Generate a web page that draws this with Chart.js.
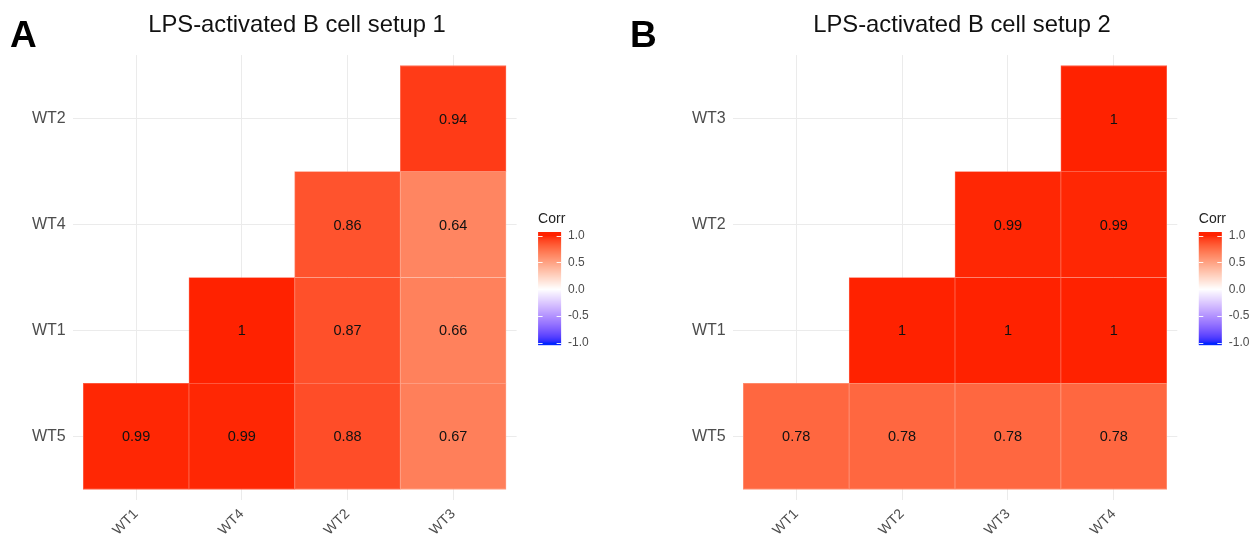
<!DOCTYPE html>
<html><head><meta charset="utf-8">
<script src="https://cdn.jsdelivr.net/npm/chart.js@4.4.0/dist/chart.umd.min.js"></script>
<style>
html,body{margin:0;padding:0;background:#fff;}
#wrap{position:relative;width:1255px;height:539px;overflow:hidden;background:#fff;}
canvas{position:absolute;top:0;}
#cA{left:0;} #cB{left:627px;}
</style></head><body>
<div id="wrap"><canvas id="cA" width="627" height="539"></canvas><canvas id="cB" width="628" height="539"></canvas></div>
<script>
// ---- data ----
const titleA = 'LPS-activated B cell setup 1';
const titleB = 'LPS-activated B cell setup 2';
const letterA = 'A';
const letterB = 'B';
const legendTitle = 'Corr';
const colsA = ['WT1', 'WT4', 'WT2', 'WT3'];
const rowsA = ['WT5', 'WT1', 'WT4', 'WT2']; // bottom -> top
const valsA_WT5 = [0.99, 0.99, 0.88, 0.67];
const valsA_WT1 = [null, 1, 0.87, 0.66];
const valsA_WT4 = [null, null, 0.86, 0.64];
const valsA_WT2 = [null, null, null, 0.94];
const colsB = ['WT1', 'WT2', 'WT3', 'WT4'];
const rowsB = ['WT5', 'WT1', 'WT2', 'WT3']; // bottom -> top
const valsB_WT5 = [0.78, 0.78, 0.78, 0.78];
const valsB_WT1 = [null, 1, 1, 1];
const valsB_WT2 = [null, null, 0.99, 0.99];
const valsB_WT3 = [null, null, null, 1];
const legendTicks = [1.0, 0.5, 0.0, -0.5, -1.0];
const legendTickLabels = ['1.0', '0.5', '0.0', '-0.5', '-1.0'];

// ---- colour scale (Lab interpolation, blue - white - red) ----
function s2l(c){c/=255;return c<=0.04045?c/12.92:Math.pow((c+0.055)/1.055,2.4);}
function l2s(c){c=c<=0.0031308?12.92*c:1.055*Math.pow(Math.max(c,0),1/2.4)-0.055;return Math.round(Math.max(0,Math.min(1,c))*255);}
function rgbToLab(rgb){const R=s2l(rgb[0]),G=s2l(rgb[1]),B=s2l(rgb[2]);
  const X=(0.4124*R+0.3576*G+0.1805*B)/0.95047,Y=0.2126*R+0.7152*G+0.0722*B,Z=(0.0193*R+0.1192*G+0.9505*B)/1.08883;
  const f=t=>t>0.008856?Math.cbrt(t):7.787*t+16/116;
  const fx=f(X),fy=f(Y),fz=f(Z);return [116*fy-16,500*(fx-fy),200*(fy-fz)];}
function labToRgb(lab){const fy=(lab[0]+16)/116,fx=fy+lab[1]/500,fz=fy-lab[2]/200;
  const fi=t=>t*t*t>0.008856?t*t*t:(t-16/116)/7.787;
  const X=fi(fx)*0.95047,Y=fi(fy),Z=fi(fz)*1.08883;
  return [l2s(3.2406*X-1.5372*Y-0.4986*Z),l2s(-0.9689*X+1.8758*Y+0.0415*Z),l2s(0.0557*X-0.2040*Y+1.0570*Z)];}
const LOW=rgbToLab([0,36,255]),MID=rgbToLab([255,255,255]),HIGH=rgbToLab([255,34,0]);
function corrRGB(v){const t=Math.min(1,Math.abs(v));const e=v>=0?HIGH:LOW;return labToRgb(MID.map((m,i)=>m+(e[i]-m)*t));}
function corrColor(v,mix){let c=corrRGB(v);if(mix)c=c.map(x=>Math.round(x+(255-x)*mix));return 'rgb('+c.join(',')+')';}

const FONT = '"Liberation Sans", Arial, Helvetica, sans-serif';

function makePanel(id, cols, rows, rowVals, title, letter, geo) {
  const datasets = rows.map((r, ri) => {
    const pts = [];
    rowVals[ri].forEach((v, ci) => { if (v !== null) pts.push({x: ci + 1, y: [ri + 0.5, ri + 1.5], v: v}); });
    return {
      label: r, data: pts, grouped: false,
      backgroundColor: pts.map(p => corrColor(p.v)),
      borderColor: pts.map(p => corrColor(p.v, 0.3)),
      borderWidth: 0.8, borderSkipped: false,
      barPercentage: 1, categoryPercentage: 1
    };
  });
  const deco = {
    id: 'deco',
    afterDatasetsDraw(chart) {
      const ctx = chart.ctx;
      ctx.save();
      ctx.fillStyle = '#111';
      ctx.font = '14.5px ' + FONT;
      ctx.textAlign = 'center';
      ctx.textBaseline = 'middle';
      chart.data.datasets.forEach((ds, di) => {
        chart.getDatasetMeta(di).data.forEach((el, i) => {
          const c = el.getCenterPoint();
          ctx.fillText(String(ds.data[i].v), c.x, c.y + 1);
        });
      });
      ctx.restore();
    },
    afterDraw(chart) {
      const ctx = chart.ctx;
      const a = chart.chartArea;
      ctx.save();
      // panel letter
      ctx.fillStyle = '#000';
      ctx.font = 'bold 37px ' + FONT;
      ctx.textAlign = 'left';
      ctx.textBaseline = 'alphabetic';
      ctx.fillText(letter, geo.letterX, 47);
      // title
      ctx.font = '23.8px ' + FONT;
      ctx.textAlign = 'center';
      ctx.fillStyle = '#111';
      ctx.fillText(title, geo.titleX, 32);
      // legend
      const bx = a.right + 21.5, bw = 23, top = 232, bot = 345;
      const y1 = 235.5, ym1 = 343;
      const yOf = v => y1 + (1 - v) / 2 * (ym1 - y1);
      for (let y = top; y < bot; y += 1) {
        const v = 1 - (y + 0.5 - y1) / (ym1 - y1) * 2;
        ctx.fillStyle = corrColor(Math.max(-1, Math.min(1, v)));
        ctx.fillRect(bx, y, bw, 1.2);
      }
      ctx.strokeStyle = 'rgba(255,255,255,0.9)';
      ctx.lineWidth = 1;
      legendTicks.forEach(v => {
        const y = Math.round(yOf(v)) + 0.5;
        ctx.beginPath();
        ctx.moveTo(bx, y); ctx.lineTo(bx + 4.5, y);
        ctx.moveTo(bx + bw - 4.5, y); ctx.lineTo(bx + bw, y);
        ctx.stroke();
      });
      ctx.fillStyle = '#222';
      ctx.font = '14px ' + FONT;
      ctx.textAlign = 'left';
      ctx.textBaseline = 'alphabetic';
      ctx.fillText(legendTitle, bx, 223);
      ctx.fillStyle = '#4D4D4D';
      ctx.font = '12px ' + FONT;
      ctx.textBaseline = 'middle';
      legendTicks.forEach((v, i) => ctx.fillText(legendTickLabels[i], bx + bw + 7, yOf(v)));
      ctx.restore();
    }
  };
  return new Chart(document.getElementById(id), {
    type: 'bar',
    data: {datasets},
    plugins: [deco],
    options: {
      responsive: false, animation: false, events: [], devicePixelRatio: 1,
      layout: {padding: {left: 0, right: geo.padRight, top: 55.1, bottom: 0}},
      plugins: {legend: {display: false}, tooltip: {enabled: false}, title: {display: false}},
      scales: {
        x: {
          type: 'linear', min: 0.4, max: 4.6, offset: false,
          afterBuildTicks: s => { s.ticks = cols.map((c, i) => ({value: i + 1})); },
          afterFit: s => { s.height = 539 - 499.9; },
          grid: {color: '#EBEBEB', lineWidth: 1, drawTicks: false, offset: false},
          border: {display: false},
          ticks: {autoSkip: false, maxRotation: 45, minRotation: 45, padding: 6, color: '#4D4D4D',
                  font: {family: FONT, size: 14}, callback: v => cols[Math.round(v) - 1]}
        },
        y: {
          type: 'linear', min: 0.4, max: 4.6, offset: false,
          afterBuildTicks: s => { s.ticks = rows.map((r, i) => ({value: i + 1})); },
          afterFit: s => { s.width = geo.axisW; },
          grid: {color: '#EBEBEB', lineWidth: 1, drawTicks: false, offset: false},
          border: {display: false},
          ticks: {padding: 7, color: '#4D4D4D', font: {family: FONT, size: 16},
                  callback: v => rows[Math.round(v) - 1]}
        }
      }
    }
  });
}

makePanel('cA', colsA, rowsA, [valsA_WT5, valsA_WT1, valsA_WT4, valsA_WT2], titleA, letterA,
  {axisW: 72.7, padRight: 627 - 516.6, titleX: 297, letterX: 10});
makePanel('cB', colsB, rowsB, [valsB_WT5, valsB_WT1, valsB_WT2, valsB_WT3], titleB, letterB,
  {axisW: 732.7 - 627, padRight: 628 - (1177.3 - 627), titleX: 962 - 627, letterX: 3});
</script>
</body></html>
